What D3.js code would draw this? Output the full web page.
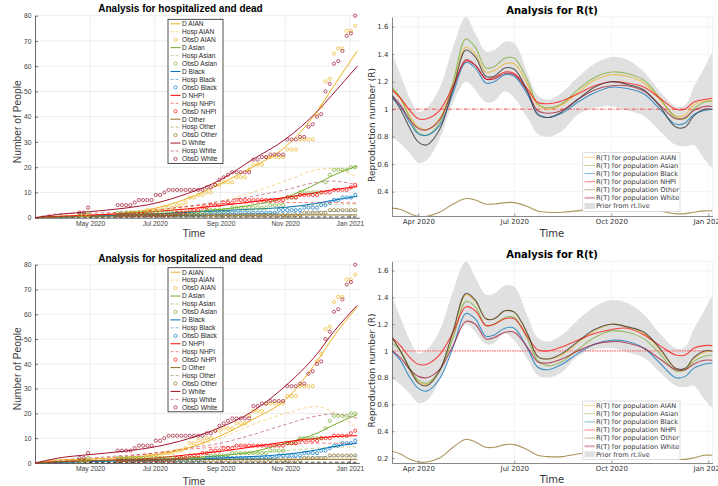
<!DOCTYPE html>
<html>
<head>
<meta charset="utf-8">
<script src="https://cdn.jsdelivr.net/npm/d3@7"></script>
<style>
  body { margin: 0; background: #fff; }
  svg { display: block; }
</style>
</head>
<body>
<div id="chart"></div>
<script>
// ---------- shared labels ----------
const groups = ["AIAN", "Asian", "Black", "NHPI", "Other", "White"];
const groupColors = ["#EDB120", "#77AC30", "#0072BD", "#FF0000", "#8C6D1F", "#A2142F"];

// ---------- hospitalized / dead panels ----------
const countTicks = ["2020-05-01", "2020-07-01", "2020-09-01", "2020-11-01", "2021-01-01"];
const countYTicks = [0, 10, 20, 30, 40, 50, 60, 70, 80];
const modelDates = ["2020-03-10", "2020-04-01", "2020-05-01", "2020-06-01", "2020-07-01", "2020-08-01",
                    "2020-09-01", "2020-10-01", "2020-11-01", "2020-12-01", "2020-12-15", "2021-01-08"];

// top row model fit
const deadAIAN1  = [0, 0.6, 1.0, 1.7, 3.7, 7.6, 13.5, 20, 28, 42, 51, 66];
const deadAsian1 = [0, 0.3, 0.6, 1.0, 1.5, 2.3, 3.3, 5.0, 8.0, 13.5, 16.5, 20.5];
const deadBlack1 = [0, 0.3, 0.6, 1.0, 1.5, 2.1, 2.8, 3.4, 4.1, 5.7, 6.8, 8.5];
const deadNHPI1  = [0, 0.5, 1.0, 1.6, 2.4, 3.5, 4.8, 6.3, 8.0, 10, 11, 12.3];
const deadOther1 = [0, 0.3, 0.5, 0.7, 0.8, 0.9, 1.0, 1.0, 1.1, 1.1, 1.1, 1.1];
const deadWhite1 = [0, 1.3, 2.4, 3.7, 5.7, 9.6, 15, 23, 31, 42, 48.5, 60];
const hospAIAN1  = [0, 0.3, 0.7, 1.2, 2.2, 4.0, 6.5, 10, 14.5, 19, 19.5, 16];
const hospAsian1 = [0, 0.2, 0.4, 0.7, 1.0, 1.5, 2.2, 3.0, 4.0, 5.0, 5.3, 5.5];
const hospBlack1 = [0, 0.1, 0.3, 0.5, 0.8, 1.0, 1.3, 1.6, 2.0, 2.3, 2.5, 2.6];
const hospNHPI1  = [0, 0.5, 1.0, 2.0, 3.0, 4.5, 5.5, 5.8, 6.0, 6.0, 6.0, 5.8];
const hospOther1 = [0, 0.1, 0.2, 0.2, 0.3, 0.3, 0.3, 0.3, 0.3, 0.3, 0.3, 0.3];
const hospWhite1 = [0, 1.5, 1.8, 2.2, 3.0, 4.5, 6.5, 8.5, 11, 14, 14.5, 13];

// bottom row model fit
const deadAIAN2  = [0, 1.2, 1.6, 2.2, 3.3, 6.0, 11, 17.5, 25.5, 41, 50, 63];
const deadAsian2 = [0, 0.3, 0.6, 1.0, 1.5, 2.0, 3.0, 4.5, 8.0, 12, 15, 19.5];
const deadBlack2 = [0, 0.3, 0.6, 0.9, 1.1, 1.5, 2.0, 2.6, 3.5, 5.3, 6.5, 8.0];
const deadNHPI2  = [0, 0.5, 0.9, 1.3, 2.0, 3.3, 4.7, 6.5, 8.5, 10, 10.6, 11];
const deadOther2 = [0, 0.6, 1.0, 1.2, 1.3, 1.4, 1.4, 1.5, 1.5, 1.5, 1.5, 1.5];
const deadWhite2 = [0, 2.0, 3.4, 4.7, 6.5, 9.7, 14.4, 20.8, 31, 44, 52, 63.6];
const hospAIAN2  = [0, 0.5, 1.0, 1.8, 3.0, 6.0, 10, 15.5, 20, 22.8, 20.8, 14];
const hospAsian2 = [0, 0.3, 0.6, 1.0, 1.5, 2.2, 3.0, 4.0, 5.0, 6.0, 6.3, 6.5];
const hospBlack2 = [0, 0.2, 0.4, 0.6, 0.9, 1.2, 1.5, 1.8, 2.2, 2.5, 2.7, 2.8];
const hospNHPI2  = [0, 0.8, 1.5, 2.5, 4.0, 5.5, 6.5, 7.0, 7.5, 8.0, 8.0, 7.8];
const hospOther2 = [0, 0.1, 0.2, 0.2, 0.3, 0.3, 0.3, 0.3, 0.3, 0.3, 0.3, 0.3];
const hospWhite2 = [0, 1.2, 2.0, 3.0, 4.0, 6.0, 8.0, 11.4, 15.5, 19, 19.8, 18];

// observed deaths (same in both rows)
const obsDates = [
  "2020-04-21", "2020-04-25", "2020-04-29",
  "2020-05-03", "2020-05-07", "2020-05-11", "2020-05-15", "2020-05-19", "2020-05-23", "2020-05-27", "2020-05-31",
  "2020-06-04", "2020-06-08", "2020-06-12", "2020-06-16", "2020-06-20", "2020-06-24", "2020-06-28",
  "2020-07-02", "2020-07-06", "2020-07-10", "2020-07-14", "2020-07-18", "2020-07-22", "2020-07-26", "2020-07-30",
  "2020-08-03", "2020-08-07", "2020-08-11", "2020-08-15", "2020-08-19", "2020-08-23", "2020-08-27", "2020-08-31",
  "2020-09-04", "2020-09-08", "2020-09-12", "2020-09-16", "2020-09-20", "2020-09-24", "2020-09-28",
  "2020-10-02", "2020-10-06", "2020-10-10", "2020-10-14", "2020-10-18", "2020-10-22", "2020-10-26", "2020-10-30",
  "2020-11-03", "2020-11-07", "2020-11-11", "2020-11-15", "2020-11-19", "2020-11-23", "2020-11-27",
  "2020-12-01", "2020-12-05", "2020-12-09", "2020-12-13", "2020-12-17", "2020-12-21", "2020-12-25", "2020-12-29",
  "2021-01-02", "2021-01-06"];
const obsAIAN = [1, 1, 1,
  null, null, null, null, null, null, 1, 1,
  1, 2, 2, 2, 2, 3, 3,
  3, 3, 4, 4, 4, 5, 5, 6,
  8, 8, 9, 9, 10, 10, 13, 13,
  14, 14, 14, 16, 16, 16, 19,
  21, 21, 21, 24, 24, 24, 24, 24,
  27, 27, 27, 31, 31, 31, 31,
  41, 44, 54, 55, 65, 67, 67, 74,
  74, 76];
const obsAsian = [1, 1, 2,
  null, null, null, null, null, null, 2, 2,
  2, 2, 2, 2, 2, 2, 2,
  2, 2, 2, 2, 2, 2, 2, 2,
  2, 2, 2, 2, 3, 3, 3, 3,
  3, 3, 4, 4, 4, 4, 4,
  4, 4, 4, 4, 5, 5, 5, 5,
  8, 8, 8, 10, 10, 10, 10,
  10, 10, 14, 17, 19, 19, 19, 19,
  20, 20];
const obsBlack = [null, null, null,
  null, null, null, null, null, null, 1, 1,
  1, 1, 1, 1, 1, 1, 1,
  1, 1, 1, 1, 1, 1, 1, 1,
  1, 1, 1, 1, 2, 2, 2, 2,
  2, 2, 2, 2, 2, 2, 2,
  2, 2, 2, 2, 2, 2, 3, 3,
  3, 3, 3, 3, 4, 4, 4,
  4, 5, 5, 6, 7, 7, 8, 8,
  8, 9];
const obsNHPI = [null, null, null,
  null, null, null, null, null, null, 1, 1,
  1, 1, 1, 1, 1, 1, 1,
  1, 1, 1, 1, 1, 2, 2, 2,
  3, 3, 3, 4, 4, 5, 5, 5,
  6, 6, 6, 7, 7, 7, 7,
  7, 7, 7, 7, 7, 7, 7, 7,
  8, 8, 8, 9, 9, 9, 9,
  9, 10, 10, 10, 11, 11, 11, 11,
  12, 13];
const obsOther = [null, null, null,
  null, null, null, null, null, null, 1, 1,
  1, 1, 1, 1, 1, 1, 1,
  1, 1, 1, 1, 1, 1, 1, 1,
  1, 1, 1, 1, 1, 1, 1, 1,
  1, 1, 1, 1, 1, 1, 1,
  1, 1, 1, 1, 1, 1, 1, 1,
  1, 1, 1, 1, 2, 2, 2,
  2, 2, 2, 3, 3, 3, 3, 3,
  3, 3];
const obsWhite = [2, 2, 4,
  null, null, null, null, null, null, 5, 5,
  5, 5, 6, 7, 7, 7, 7,
  9, 9, 10, 11, 11, 11, 11, 11,
  11, 11, 11, 11, 12, 12, 13, 15,
  16, 17, 18, 18, 18, 18, 18,
  23, 23, 24, 24, 25, 25, 25, 25,
  31, 31, 31, 32, 32, 36, 37,
  40, 41, 50, 53, 61, 62, 66, 72,
  73, 80];

// ---------- R(t) panels ----------
const rtTicks = ["2020-04-01", "2020-07-01", "2020-10-01", "2021-01-01"];
const rtYTicks1 = [0.4, 0.6, 0.8, 1.0, 1.2, 1.4, 1.6];
const rtYTicks2 = [0.2, 0.4, 0.6, 0.8, 1.0, 1.2, 1.4, 1.6];
const rtDates = ["2020-03-07", "2020-03-15", "2020-03-24", "2020-04-01", "2020-04-09", "2020-04-21", "2020-05-04",
                 "2020-05-16", "2020-05-25", "2020-06-04", "2020-06-12", "2020-06-22", "2020-07-01", "2020-07-14",
                 "2020-07-23", "2020-08-02", "2020-08-15", "2020-08-30", "2020-09-15", "2020-10-01", "2020-10-16",
                 "2020-11-01", "2020-11-16", "2020-12-01", "2020-12-10", "2020-12-18", "2020-12-28", "2021-01-05"];
const priorUpper = [1.41, 1.25, 1.08, 0.98, 1.01, 1.15, 1.45, 1.67, 1.55, 1.42, 1.43, 1.49, 1.48, 1.25,
                    1.10, 1.07, 1.12, 1.23, 1.33, 1.38, 1.36, 1.27, 1.13, 1.02, 1.03, 1.16, 1.30, 1.42];
const priorLower = [0.80, 0.75, 0.68, 0.61, 0.63, 0.78, 1.05, 1.20, 1.14, 1.05, 1.06, 1.13, 1.08, 0.93,
                    0.82, 0.80, 0.84, 0.96, 1.01, 1.02, 0.99, 0.95, 0.84, 0.74, 0.73, 0.74, 0.64, 0.57];
const priorMid   = [1.10, 1.00, 0.86, 0.76, 0.74, 0.85, 1.15, 1.43, 1.38, 1.24, 1.24, 1.30, 1.29, 1.12,
                    0.96, 0.94, 0.98, 1.07, 1.16, 1.20, 1.18, 1.14, 1.02, 0.87, 0.87, 0.95, 1.00, 1.00];

const rtAIAN1  = [1.15, 1.08, 0.95, 0.87, 0.85, 0.93, 1.18, 1.45, 1.40, 1.27, 1.28, 1.33, 1.33, 1.17,
                  1.03, 1.00, 1.03, 1.12, 1.21, 1.25, 1.24, 1.19, 1.07, 0.95, 0.96, 1.03, 1.06, 1.06];
const rtAsian1 = [1.16, 1.08, 0.93, 0.83, 0.81, 0.90, 1.20, 1.51, 1.45, 1.30, 1.31, 1.37, 1.37, 1.20,
                  1.04, 1.01, 1.04, 1.14, 1.23, 1.27, 1.26, 1.21, 1.08, 0.94, 0.93, 1.00, 1.05, 1.06];
const rtBlack1 = [1.08, 1.02, 0.90, 0.82, 0.81, 0.88, 1.12, 1.34, 1.30, 1.19, 1.20, 1.25, 1.24, 1.10,
                  0.97, 0.94, 0.97, 1.05, 1.12, 1.16, 1.15, 1.11, 1.00, 0.89, 0.90, 0.96, 0.99, 1.00];
const rtNHPI1  = [1.14, 1.08, 0.99, 0.93, 0.93, 0.99, 1.17, 1.35, 1.32, 1.22, 1.23, 1.27, 1.26, 1.14,
                  1.05, 1.04, 1.06, 1.11, 1.17, 1.20, 1.19, 1.16, 1.08, 1.00, 1.00, 1.05, 1.07, 1.08];
const rtOther1 = [0.28, 0.27, 0.24, 0.22, 0.22, 0.25, 0.31, 0.35, 0.34, 0.31, 0.31, 0.32, 0.32, 0.29,
                  0.26, 0.25, 0.25, 0.26, 0.28, 0.30, 0.30, 0.29, 0.26, 0.24, 0.24, 0.25, 0.26, 0.26];
const rtWhite1 = [1.10, 1.03, 0.92, 0.86, 0.85, 0.92, 1.15, 1.36, 1.32, 1.22, 1.22, 1.26, 1.25, 1.12,
                  0.99, 0.97, 0.99, 1.07, 1.14, 1.17, 1.17, 1.13, 1.03, 0.93, 0.94, 0.99, 1.02, 1.02];

const rtAIAN2  = [1.10, 1.00, 0.86, 0.77, 0.75, 0.85, 1.14, 1.42, 1.37, 1.24, 1.24, 1.30, 1.29, 1.12,
                  0.96, 0.94, 0.97, 1.06, 1.15, 1.20, 1.18, 1.13, 1.01, 0.87, 0.86, 0.94, 0.99, 1.00];
const rtAsian2 = [1.06, 1.00, 0.87, 0.78, 0.76, 0.85, 1.10, 1.37, 1.33, 1.19, 1.20, 1.25, 1.25, 1.08,
                  0.93, 0.89, 0.92, 1.01, 1.10, 1.15, 1.14, 1.09, 0.98, 0.85, 0.86, 0.92, 0.96, 0.97];
const rtBlack2 = [1.00, 0.93, 0.80, 0.72, 0.70, 0.79, 1.03, 1.28, 1.24, 1.11, 1.12, 1.17, 1.17, 1.01,
                  0.88, 0.86, 0.90, 0.98, 1.05, 1.08, 1.07, 1.02, 0.91, 0.80, 0.81, 0.87, 0.90, 0.91];
const rtNHPI2  = [1.10, 1.04, 0.95, 0.90, 0.90, 0.97, 1.14, 1.33, 1.30, 1.19, 1.20, 1.24, 1.24, 1.10,
                  1.01, 1.00, 1.03, 1.08, 1.13, 1.16, 1.17, 1.12, 1.04, 0.97, 0.97, 1.02, 1.04, 1.04];
const rtOther2 = [0.25, 0.23, 0.19, 0.17, 0.17, 0.20, 0.28, 0.34, 0.32, 0.28, 0.28, 0.30, 0.30, 0.26,
                  0.22, 0.21, 0.21, 0.23, 0.25, 0.26, 0.26, 0.25, 0.22, 0.19, 0.19, 0.20, 0.22, 0.22];
const rtWhite2 = [1.00, 0.95, 0.86, 0.81, 0.80, 0.86, 1.04, 1.22, 1.20, 1.09, 1.10, 1.14, 1.14, 1.02,
                  0.92, 0.91, 0.94, 1.00, 1.05, 1.07, 1.06, 1.02, 0.94, 0.86, 0.86, 0.90, 0.93, 0.93];

// ---------- drawing ----------
const parseDate = d3.timeParse("%Y-%m-%d");
const fmtMonth = d3.timeFormat("%b %Y");
const MATLAB_FONT = "'Liberation Sans', Arial, Helvetica, sans-serif";
const JULIA_FONT = "'DejaVu Sans', sans-serif";

const svg = d3.select("#chart").append("svg")
  .attr("width", 718)
  .attr("height", 486);

/* Left panels: model deaths (solid), hospitalised (dashed), observed deaths (circles) */
function drawCounts(p, dead, hosp) {
  const g = svg.append("g").attr("font-family", MATLAB_FONT);
  const x = d3.scaleTime()
              .domain([parseDate("2020-03-10"), parseDate("2021-01-10")])
              .range([35, 359.4]);
  const y = d3.scaleLinear().domain([0, 80]).range([p.bottom, p.top]);

  // grid
  g.append("g").selectAll("line").data(countTicks.map(parseDate)).join("line")
    .attr("x1", d => x(d)).attr("x2", d => x(d)).attr("y1", p.top).attr("y2", p.bottom)
    .attr("stroke", "#e4e4e4").attr("stroke-width", 0.7);
  g.append("g").selectAll("line").data(countYTicks.slice(1)).join("line")
    .attr("x1", 35).attr("x2", 359.4).attr("y1", d => y(d)).attr("y2", d => y(d))
    .attr("stroke", "#e4e4e4").attr("stroke-width", 0.7);

  // axes
  const xAx = g.append("g").attr("transform", `translate(0,${p.bottom})`)
    .call(d3.axisBottom(x).tickValues(countTicks.map(parseDate)).tickFormat(fmtMonth)
            .tickSizeInner(-3).tickSizeOuter(0).tickPadding(3.3));
  const yAx = g.append("g").attr("transform", "translate(35,0)")
    .call(d3.axisLeft(y).tickValues(countYTicks).tickSizeInner(-3).tickSizeOuter(0).tickPadding(3.5));
  [xAx, yAx].forEach(ax => {
    ax.attr("font-family", MATLAB_FONT).attr("font-size", 6.7);
    ax.select(".domain").attr("stroke", "#262626").attr("stroke-width", 0.7);
    ax.selectAll(".tick line").attr("stroke", "#262626").attr("stroke-width", 0.6);
    ax.selectAll(".tick text").attr("fill", "#404040");
  });

  const line = vals => d3.line()
    .x((d, i) => x(parseDate(modelDates[i])))
    .y(d => y(d))
    .curve(d3.curveMonotoneX)(vals);

  // hospitalised (dashed, light)
  hosp.forEach((vals, k) => {
    g.append("path").attr("d", line(vals))
      .attr("fill", "none")
      .attr("stroke", groups[k] === "Other" ? "#3d3a30" : groupColors[k])
      .attr("stroke-opacity", groups[k] === "Other" ? 0.9 : 0.5)
      .attr("stroke-width", 1)
      .attr("stroke-dasharray", "3.5,2.5");
  });
  // model deaths (solid)
  dead.forEach((vals, k) => {
    g.append("path").attr("d", line(vals))
      .attr("fill", "none").attr("stroke", groupColors[k]).attr("stroke-width", 1);
  });
  // observed deaths (open circles)
  const obs = [obsAIAN, obsAsian, obsBlack, obsNHPI, obsOther, obsWhite];
  obs.forEach((vals, k) => {
    g.append("g").selectAll("circle")
      .data(vals.map((v, i) => ({ date: parseDate(obsDates[i]), v })).filter(d => d.v !== null))
      .join("circle")
      .attr("cx", d => x(d.date)).attr("cy", d => y(d.v)).attr("r", 1.6)
      .attr("fill", "none").attr("stroke", groupColors[k]).attr("stroke-width", 0.7);
  });

  // texts
  g.append("text").attr("x", 180.5).attr("y", p.titleY).attr("text-anchor", "middle")
    .attr("font-size", 10).attr("font-weight", "bold").attr("fill", "#000")
    .text("Analysis for hospitalized and dead");
  g.append("text").attr("x", 194).attr("y", p.timeY).attr("text-anchor", "middle")
    .attr("font-size", 10.5).attr("fill", "#404040").text("Time");
  g.append("text").attr("transform", `translate(20.5,${p.yLabelY}) rotate(-90)`)
    .attr("text-anchor", "middle").attr("font-size", 10.3).attr("fill", "#404040")
    .text("Number of People");

  // legend
  const lg = g.append("g");
  const pitch = 7.95;
  lg.append("rect").attr("x", 168).attr("y", p.legendTop).attr("width", 55).attr("height", pitch * 18 + 1)
    .attr("fill", "#fff").attr("stroke", "#262626").attr("stroke-width", 0.8);
  const rows = [];
  groups.forEach((name, k) => {
    rows.push({ kind: "D", k }, { kind: "Hosp", k }, { kind: "ObsD", k });
  });
  rows.forEach((r, i) => {
    const cy = p.legendTop + 4.5 + pitch * i;
    if (r.kind === "ObsD") {
      lg.append("circle").attr("cx", 175.5).attr("cy", cy).attr("r", 1.6)
        .attr("fill", "none").attr("stroke", groupColors[r.k]).attr("stroke-width", 0.7);
    } else {
      lg.append("line").attr("x1", 170.5).attr("x2", 180.5).attr("y1", cy).attr("y2", cy)
        .attr("stroke", groupColors[r.k]).attr("stroke-width", 1)
        .attr("stroke-opacity", r.kind === "Hosp" ? 0.5 : 1)
        .attr("stroke-dasharray", r.kind === "Hosp" ? "3,2" : null);
    }
    lg.append("text").attr("x", 182).attr("y", cy + 2.3).attr("font-size", 6.6).attr("fill", "#262626")
      .text(`${r.kind} ${groups[r.k]}`);
  });
}

/* Right panels: R(t) per population with the rt.live prior band */
function drawRt(p, series) {
  const g = svg.append("g").attr("font-family", JULIA_FONT);
  const x = d3.scaleTime()
              .domain([parseDate("2020-03-07"), parseDate("2021-01-05")])
              .range([392, 712.6]);
  const y = d3.scaleLinear().domain(p.yDomain).range([p.bottom, p.top]);
  const dates = rtDates.map(parseDate);
  const clipId = "clip" + Math.round(p.top);
  g.append("clipPath").attr("id", clipId).append("rect")
    .attr("x", 392).attr("y", p.top).attr("width", 320.6).attr("height", p.bottom - p.top);

  // grid
  g.append("g").selectAll("line").data(rtTicks.map(parseDate)).join("line")
    .attr("x1", d => x(d)).attr("x2", d => x(d)).attr("y1", p.top).attr("y2", p.bottom)
    .attr("stroke", "#ececec").attr("stroke-width", 0.6);
  g.append("g").selectAll("line").data(p.yTicks).join("line")
    .attr("x1", 392).attr("x2", 712.6).attr("y1", d => y(d)).attr("y2", d => y(d))
    .attr("stroke", "#ececec").attr("stroke-width", 0.6);
  g.append("line").attr("x1", 392).attr("x2", 712.6).attr("y1", p.top).attr("y2", p.top)
    .attr("stroke", "#e6e6e6").attr("stroke-width", 0.6);
  g.append("line").attr("x1", 712.6).attr("x2", 712.6).attr("y1", p.top).attr("y2", p.bottom)
    .attr("stroke", "#e6e6e6").attr("stroke-width", 0.6);

  const plot = g.append("g").attr("clip-path", `url(#${clipId})`);

  // prior band
  plot.append("path")
    .attr("d", d3.area().x((d, i) => x(dates[i])).y0((d, i) => y(priorLower[i])).y1(d => y(d))
                 .curve(d3.curveCatmullRom)(priorUpper))
    .attr("fill", "#e0e0e0");

  // R = 1 reference
  plot.append("line").attr("x1", 392).attr("x2", 712.6).attr("y1", y(1)).attr("y2", y(1))
    .attr("stroke", p.refColor).attr("stroke-width", p.refWidth).attr("stroke-opacity", p.refOpacity)
    .attr("stroke-dasharray", p.refDash);

  const line = vals => d3.line().x((d, i) => x(dates[i])).y(d => y(d))
    .curve(d3.curveCatmullRom)(vals);

  series.forEach((vals, k) => {
    plot.append("path").attr("d", line(vals)).attr("fill", "none")
      .attr("stroke", groupColors[k]).attr("stroke-opacity", 0.72).attr("stroke-width", 1.1);
  });
  plot.append("path").attr("d", line(priorMid)).attr("fill", "none")
    .attr("stroke", "#3a3a3a").attr("stroke-opacity", 0.8).attr("stroke-width", 1.1);

  // axes
  const xAx = g.append("g").attr("transform", `translate(0,${p.bottom})`)
    .call(d3.axisBottom(x).tickValues(rtTicks.map(parseDate)).tickFormat(fmtMonth)
            .tickSizeInner(-2.5).tickSizeOuter(0).tickPadding(3));
  const yAx = g.append("g").attr("transform", "translate(392,0)")
    .call(d3.axisLeft(y).tickValues(p.yTicks).tickFormat(d => d === 1 ? "1" : d.toFixed(1))
            .tickSizeInner(-2.5).tickSizeOuter(0).tickPadding(3.5));
  [xAx, yAx].forEach(ax => {
    ax.attr("font-family", JULIA_FONT).attr("font-size", 7);
    ax.select(".domain").attr("stroke", "#555").attr("stroke-width", 0.7);
    ax.selectAll(".tick line").attr("stroke", "#555").attr("stroke-width", 0.6);
    ax.selectAll(".tick text").attr("fill", "#333");
  });

  // texts
  g.append("text").attr("x", 552).attr("y", p.titleY).attr("text-anchor", "middle")
    .attr("font-size", 10).attr("font-weight", "bold").attr("fill", "#000").text("Analysis for R(t)");
  g.append("text").attr("x", 552).attr("y", p.timeY).attr("text-anchor", "middle")
    .attr("font-size", 10).attr("fill", "#333").text("Time");
  g.append("text").attr("transform", `translate(375,${p.yLabelY}) rotate(-90)`)
    .attr("text-anchor", "middle").attr("font-size", 9).attr("fill", "#333")
    .text("Reproduction number (R)");

  // legend
  const lg = g.append("g");
  const pitch = 8.1;
  lg.append("rect").attr("x", 582.7).attr("y", p.legendTop).attr("width", 97.3).attr("height", pitch * 7 + 2)
    .attr("fill", "#fff").attr("stroke", "#cfcfcf").attr("stroke-width", 0.7);
  groups.forEach((name, k) => {
    const cy = p.legendTop + 4.7 + pitch * k;
    lg.append("line").attr("x1", 584.5).attr("x2", 595).attr("y1", cy).attr("y2", cy)
      .attr("stroke", groupColors[k]).attr("stroke-opacity", name === "White" ? 0.32 : 0.5)
      .attr("stroke-width", name === "White" ? 2.2 : 1);
    lg.append("text").attr("x", 596).attr("y", cy + 2.3).attr("font-size", 6.6).attr("fill", "#333")
      .text(`R(T) for population ${name}`);
  });
  const cy = p.legendTop + 4.7 + pitch * 6;
  lg.append("rect").attr("x", 584.5).attr("y", cy - 3).attr("width", 10.5).attr("height", 6).attr("fill", "#e0e0e0");
  lg.append("text").attr("x", 596).attr("y", cy + 2.3).attr("font-size", 6.6).attr("fill", "#333")
    .text("Prior from rt.live");
}

drawCounts({ top: 15.7, bottom: 217.7, titleY: 12.2, timeY: 237, yLabelY: 121.7, legendTop: 19.3 },
  [deadAIAN1, deadAsian1, deadBlack1, deadNHPI1, deadOther1, deadWhite1],
  [hospAIAN1, hospAsian1, hospBlack1, hospNHPI1, hospOther1, hospWhite1]);
drawCounts({ top: 264.7, bottom: 463, titleY: 261.9, timeY: 484.5, yLabelY: 368.8, legendTop: 267.7 },
  [deadAIAN2, deadAsian2, deadBlack2, deadNHPI2, deadOther2, deadWhite2],
  [hospAIAN2, hospAsian2, hospBlack2, hospNHPI2, hospOther2, hospWhite2]);

drawRt({ top: 17, bottom: 216, yDomain: [0.223, 1.6705], yTicks: rtYTicks1, titleY: 14, timeY: 237,
         yLabelY: 125, legendTop: 152.7, refColor: "#ff2a2a", refWidth: 0.8, refOpacity: 1, refDash: "4,1.5,1,1.5" },
  [rtAIAN1, rtAsian1, rtBlack1, rtNHPI1, rtOther1, rtWhite1]);
drawRt({ top: 261.3, bottom: 463, yDomain: [0.1626, 1.670], yTicks: rtYTicks2, titleY: 257.5, timeY: 483,
         yLabelY: 370.5, legendTop: 401, refColor: "#ff4d4d", refWidth: 1.8, refOpacity: 0.55, refDash: "1.5,1" },
  [rtAIAN2, rtAsian2, rtBlack2, rtNHPI2, rtOther2, rtWhite2]);
</script>
</body>
</html>
